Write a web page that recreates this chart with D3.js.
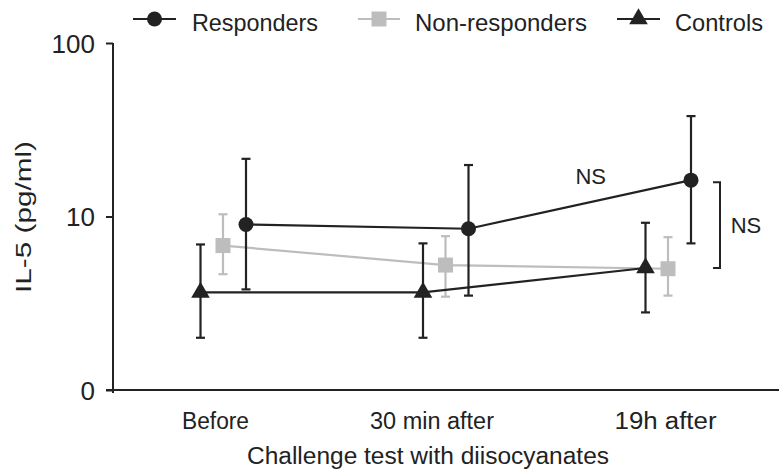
<!DOCTYPE html>
<html>
<head>
<meta charset="utf-8">
<script src="https://cdn.jsdelivr.net/npm/d3@7"></script>
<style>
  html, body { margin: 0; padding: 0; background: #fff; }
  svg { display: block; font-family: "Liberation Sans", Arial, sans-serif; }
</style>
</head>
<body>
<svg id="chart" width="779" height="471"></svg>
<script>
// ---- data ----
const categories = ["Before", "30 min after", "19h after"];
const seriesNames = ["Responders", "Non-responders", "Controls"];

const respMean = [9.0, 8.5, 16.2];
const respLow  = [3.8, 3.5, 7.0];
const respHigh = [21.5, 19.8, 37.9];

const nonMean = [6.8, 5.25, 5.0];
const nonLow  = [4.65, 3.45, 3.5];
const nonHigh = [10.3, 7.7, 7.6];

const ctrlMean = [3.65, 3.65, 5.05];
const ctrlLow  = [2.0, 2.0, 2.8];
const ctrlHigh = [6.9, 7.0, 9.2];

const yTickValues = [1, 10, 100];
const yTickLabels = ["0", "10", "100"];

const yTitle = "IL-5 (pg/ml)";
const xTitle = "Challenge test with diisocyanates";
const nsLabel = "NS";

// ---- chart ----
const svg = d3.select("#chart");
const black = "#222", grey = "#bdbdbd";

const y = d3.scaleLog().domain([1, 100]).range([390, 43]);
const x = d3.scalePoint().domain(categories).range([223, 668]);

const series = [
  { name: seriesNames[1], mean: nonMean, low: nonLow, high: nonHigh, dx: 0, color: grey, shape: "square" },
  { name: seriesNames[2], mean: ctrlMean, low: ctrlLow, high: ctrlHigh, dx: -22.5, color: black, shape: "triangle" },
  { name: seriesNames[0], mean: respMean, low: respLow, high: respHigh, dx: 23, color: black, shape: "circle" }
];

// axes
const yAxis = d3.axisLeft(y).tickValues(yTickValues)
  .tickFormat((d, i) => yTickLabels[i]).tickSize(7).tickPadding(11);
const gy = svg.append("g").attr("transform", "translate(113,0)").call(yAxis);
gy.select(".domain").attr("d", "M0,43V393").attr("stroke", black).attr("stroke-width", 2);
gy.selectAll(".tick line").attr("stroke", black).attr("stroke-width", 2);
gy.selectAll(".tick text").attr("font-size", 26).attr("fill", black).attr("dy", "0.36em");

const xAxis = d3.axisBottom(x).tickSize(0).tickPadding(18);
const gx = svg.append("g").attr("transform", "translate(0,390)").call(xAxis);
gx.select(".domain").attr("d", "M106,0H779").attr("stroke", black).attr("stroke-width", 2);
const labelNudge = [-8, -14, -3];
const labelWidth = [67, 124, 102];
gx.selectAll(".tick text").attr("font-size", 23).attr("fill", black)
  .attr("dx", (d, i) => labelNudge[i]).attr("dy", "0.9em")
  .attr("textLength", (d, i) => labelWidth[i]).attr("lengthAdjust", "spacingAndGlyphs");

// axis titles
svg.append("text").attr("x", 428).attr("y", 464).attr("text-anchor", "middle")
  .attr("font-size", 23).attr("fill", black)
  .attr("textLength", 362).attr("lengthAdjust", "spacingAndGlyphs").text(xTitle);
svg.append("text").attr("transform", "translate(31,217) rotate(-90)")
  .attr("text-anchor", "middle").attr("font-size", 22).attr("fill", black)
  .attr("textLength", 152).attr("lengthAdjust", "spacingAndGlyphs").text(yTitle);

const px = (s, i) => x(categories[i]) + s.dx;

// markers
function drawMarker(g, shape, cx, cy, color) {
  if (shape === "circle") {
    g.append("circle").attr("cx", cx).attr("cy", cy).attr("r", 7.5).attr("fill", color);
  } else if (shape === "square") {
    g.append("rect").attr("x", cx - 7.5).attr("y", cy - 7.5).attr("width", 15).attr("height", 15).attr("fill", color);
  } else {
    const sym = d3.symbol().type(d3.symbolTriangle).size(150);
    g.append("path").attr("d", sym()).attr("transform", `translate(${cx},${cy})`).attr("fill", color);
  }
}

series.forEach(s => {
  const g = svg.append("g");
  const line = d3.line().x((d, i) => px(s, i)).y(d => y(d));
  g.append("path").datum(s.mean).attr("d", line).attr("fill", "none")
    .attr("stroke", s.color).attr("stroke-width", 2.2);
  s.mean.forEach((m, i) => {
    const cx = px(s, i);
    g.append("line").attr("x1", cx).attr("x2", cx).attr("y1", y(s.low[i])).attr("y2", y(s.high[i]))
      .attr("stroke", s.color).attr("stroke-width", 2.2);
    [s.low[i], s.high[i]].forEach(v => {
      g.append("line").attr("x1", cx - 4.5).attr("x2", cx + 4.5).attr("y1", y(v)).attr("y2", y(v))
        .attr("stroke", s.color).attr("stroke-width", 2.2);
    });
    drawMarker(g, s.shape, cx, y(m), s.color);
  });
});

// significance annotations
const resp = series[2], ctrl = series[1];
const last = categories.length - 1;
svg.append("text").attr("x", (px(resp, last) + px(resp, last - 1)) / 2 + 11).attr("y", 184)
  .attr("text-anchor", "middle").attr("font-size", 22).attr("fill", black).text(nsLabel);
const bx = px(resp, last) + 29;
const bTop = y(respMean[last]) + 2, bBot = y(ctrlMean[last]);
svg.append("path").attr("d", `M${bx - 7},${bTop}H${bx}V${bBot}H${bx - 7}`)
  .attr("fill", "none").attr("stroke", black).attr("stroke-width", 2);
svg.append("text").attr("x", bx + 26).attr("y", (bTop + bBot) / 2 + 8)
  .attr("text-anchor", "middle").attr("font-size", 22).attr("fill", black).text(nsLabel);

// legend
const legendItems = [
  { name: seriesNames[0], shape: "circle", color: black, x0: 133, x1: 176, tx: 192, len: 126 },
  { name: seriesNames[1], shape: "square", color: grey, x0: 358, x1: 400, tx: 415, len: 172 },
  { name: seriesNames[2], shape: "triangle", color: black, x0: 617, x1: 660, tx: 675, len: 88 }
];
legendItems.forEach(l => {
  const g = svg.append("g");
  g.append("line").attr("x1", l.x0).attr("x2", l.x1).attr("y1", 19).attr("y2", 19)
    .attr("stroke", l.color).attr("stroke-width", 2.2);
  drawMarker(g, l.shape, (l.x0 + l.x1) / 2, 19, l.color);
  g.append("text").attr("x", l.tx).attr("y", 31).attr("font-size", 24).attr("fill", black)
    .attr("textLength", l.len).attr("lengthAdjust", "spacingAndGlyphs").text(l.name);
});
</script>
</body>
</html>
